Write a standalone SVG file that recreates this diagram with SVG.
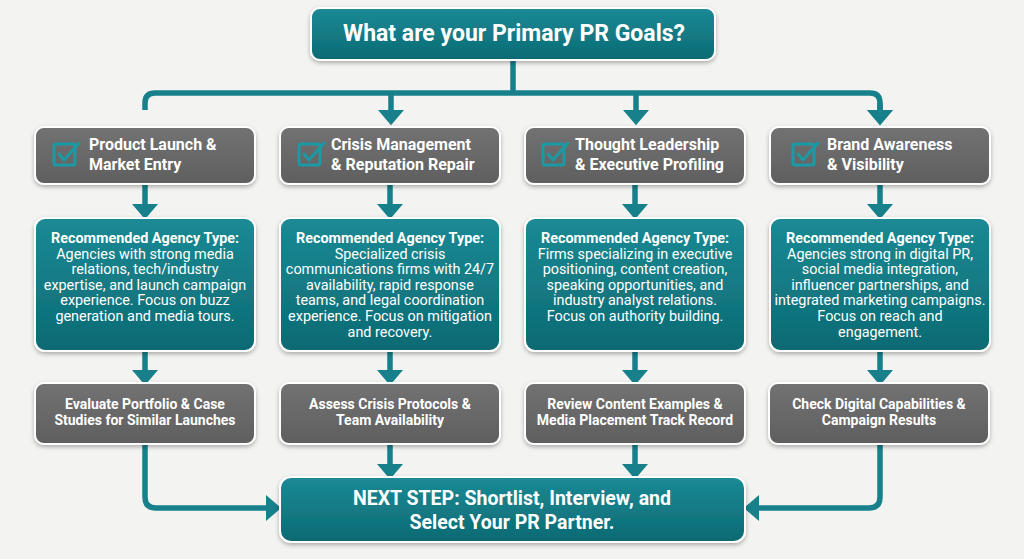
<svg xmlns="http://www.w3.org/2000/svg" width="1024" height="559" viewBox="0 0 1024 559">
<defs>
<linearGradient id="gTeal" x1="0" y1="0" x2="0" y2="1">
<stop offset="0" stop-color="#1b8a95"/><stop offset="1" stop-color="#0c6a73"/>
</linearGradient>
<linearGradient id="gGray" x1="0" y1="0" x2="0" y2="1">
<stop offset="0" stop-color="#727272"/><stop offset="1" stop-color="#5f5f5f"/>
</linearGradient>
<filter id="sh" x="-10%" y="-20%" width="120%" height="150%">
<feDropShadow dx="0" dy="2" stdDeviation="2" flood-color="#000" flood-opacity="0.3"/>
</filter>
<marker id="ah" markerUnits="userSpaceOnUse" markerWidth="16" markerHeight="26" refX="0" refY="12" orient="auto" viewBox="0 0 14 24">
<path d="M0,0 L14,12 L0,24 Z" fill="#17808a"/>
</marker>
<style>
.teal{fill:url(#gTeal);stroke:#ffffff;stroke-width:2;filter:url(#sh)}
.gray{fill:url(#gGray);stroke:#ffffff;stroke-width:2;filter:url(#sh)}
.con{fill:none;stroke:#17808a;stroke-width:5.5}
.arr{marker-end:url(#ah)}
text{font-family:Roboto,"Liberation Sans",sans-serif;fill:#ffffff}
.title{font-size:23px;font-weight:bold;text-anchor:middle}
.goal{font-size:16px;font-weight:bold}
.rec{font-size:14.4px;text-anchor:middle}
.recb{font-weight:bold}
.act{font-size:14px;font-weight:bold;text-anchor:middle}
.fin{font-size:19.5px;font-weight:bold;text-anchor:middle}
.chk{fill:none;stroke:#1a9aa5;stroke-width:3;stroke-linecap:round;stroke-linejoin:round}
</style>
</defs>
<rect width="1024" height="559" fill="#f3f4f2"/>

<g id="connectors">
<path class="con" d="M513,60 V93"/>
<path class="con arr" d="M145,110 V103 Q145,93 155,93 H870 Q880,93 880,103 V110"/>
<path class="con arr" d="M880,103 V110"/>
<path class="con arr" d="M391,93 V110"/>
<path class="con arr" d="M636,93 V110"/>
<path class="con arr" d="M145,185 V204"/>
<path class="con arr" d="M390,185 V204"/>
<path class="con arr" d="M635,185 V204"/>
<path class="con arr" d="M880,185 V204"/>
<path class="con arr" d="M145,352 V370"/>
<path class="con arr" d="M390,352 V370"/>
<path class="con arr" d="M635,352 V370"/>
<path class="con arr" d="M880,352 V370"/>
<path class="con arr" d="M390,445 V464"/>
<path class="con arr" d="M635,445 V464"/>
<path class="con arr" d="M145,445 V497 Q145,508 156,508 H266"/>
<path class="con arr" d="M880,445 V497 Q880,508 869,508 H759"/>
</g>

<g id="title">
<rect class="teal" x="311" y="8" width="404" height="52" rx="9"/>
<text class="title" x="514" y="41">What are your Primary PR Goals?</text>
</g>

<g id="goal1">
<rect class="gray" x="35" y="127" width="220" height="57" rx="9"/>
<rect class="chk" x="54" y="144" width="21" height="21" rx="2"/>
<path class="chk" d="M59,154 L64,160 L79,143"/>
<text class="goal" x="89" y="150">Product Launch &amp;</text>
<text class="goal" x="89" y="170">Market Entry</text>
</g>
<g id="goal2">
<rect class="gray" x="280" y="127" width="220" height="57" rx="9"/>
<rect class="chk" x="299" y="144" width="21" height="21" rx="2"/>
<path class="chk" d="M304,154 L309,160 L324,143"/>
<text class="goal" x="331" y="150">Crisis Management</text>
<text class="goal" x="331" y="170">&amp; Reputation Repair</text>
</g>
<g id="goal3">
<rect class="gray" x="525" y="127" width="220" height="57" rx="9"/>
<rect class="chk" x="543" y="144" width="21" height="21" rx="2"/>
<path class="chk" d="M548,154 L553,160 L568,143"/>
<text class="goal" x="575" y="150">Thought Leadership</text>
<text class="goal" x="575" y="170">&amp; Executive Profiling</text>
</g>
<g id="goal4">
<rect class="gray" x="770" y="127" width="220" height="57" rx="9"/>
<rect class="chk" x="793" y="144" width="21" height="21" rx="2"/>
<path class="chk" d="M798,154 L803,160 L818,143"/>
<text class="goal" x="827" y="150">Brand Awareness</text>
<text class="goal" x="827" y="170">&amp; Visibility</text>
</g>

<g id="rec1">
<rect class="teal" x="35" y="218" width="220" height="133" rx="10"/>
<text class="rec" x="145" y="243"><tspan class="recb">Recommended Agency Type:</tspan><tspan x="145" dy="15.6">Agencies with strong media</tspan><tspan x="145" dy="15.6">relations, tech/industry</tspan><tspan x="145" dy="15.6">expertise, and launch campaign</tspan><tspan x="145" dy="15.6">experience. Focus on buzz</tspan><tspan x="145" dy="15.6">generation and media tours.</tspan></text>
</g>
<g id="rec2">
<rect class="teal" x="280" y="218" width="220" height="133" rx="10"/>
<text class="rec" x="390" y="243"><tspan class="recb">Recommended Agency Type:</tspan><tspan x="390" dy="15.6">Specialized crisis</tspan><tspan x="390" dy="15.6">communications firms with 24/7</tspan><tspan x="390" dy="15.6">availability, rapid response</tspan><tspan x="390" dy="15.6">teams, and legal coordination</tspan><tspan x="390" dy="15.6">experience. Focus on mitigation</tspan><tspan x="390" dy="15.6">and recovery.</tspan></text>
</g>
<g id="rec3">
<rect class="teal" x="525" y="218" width="220" height="133" rx="10"/>
<text class="rec" x="635" y="243"><tspan class="recb">Recommended Agency Type:</tspan><tspan x="635" dy="15.6">Firms specializing in executive</tspan><tspan x="635" dy="15.6">positioning, content creation,</tspan><tspan x="635" dy="15.6">speaking opportunities, and</tspan><tspan x="635" dy="15.6">industry analyst relations.</tspan><tspan x="635" dy="15.6">Focus on authority building.</tspan></text>
</g>
<g id="rec4">
<rect class="teal" x="770" y="218" width="220" height="133" rx="10"/>
<text class="rec" x="880" y="243"><tspan class="recb">Recommended Agency Type:</tspan><tspan x="880" dy="15.6">Agencies strong in digital PR,</tspan><tspan x="880" dy="15.6">social media integration,</tspan><tspan x="880" dy="15.6">influencer partnerships, and</tspan><tspan x="880" dy="15.6">integrated marketing campaigns.</tspan><tspan x="880" dy="15.6">Focus on reach and</tspan><tspan x="880" dy="15.6">engagement.</tspan></text>
</g>

<g id="act1">
<rect class="gray" x="35" y="383" width="220" height="61" rx="9"/>
<text class="act" x="145" y="409">Evaluate Portfolio &amp; Case</text>
<text class="act" x="145" y="425">Studies for Similar Launches</text>
</g>
<g id="act2">
<rect class="gray" x="280" y="383" width="220" height="61" rx="9"/>
<text class="act" x="390" y="409">Assess Crisis Protocols &amp;</text>
<text class="act" x="390" y="425">Team Availability</text>
</g>
<g id="act3">
<rect class="gray" x="525" y="383" width="220" height="61" rx="9"/>
<text class="act" x="635" y="409">Review Content Examples &amp;</text>
<text class="act" x="635" y="425">Media Placement Track Record</text>
</g>
<g id="act4">
<rect class="gray" x="769" y="383" width="220" height="61" rx="9"/>
<text class="act" x="879" y="409">Check Digital Capabilities &amp;</text>
<text class="act" x="879" y="425">Campaign Results</text>
</g>

<g id="final">
<rect class="teal" x="280" y="477" width="465" height="65" rx="11"/>
<text class="fin" x="512" y="505">NEXT STEP: Shortlist, Interview, and</text>
<text class="fin" x="512" y="529">Select Your PR Partner.</text>
</g>
</svg>
